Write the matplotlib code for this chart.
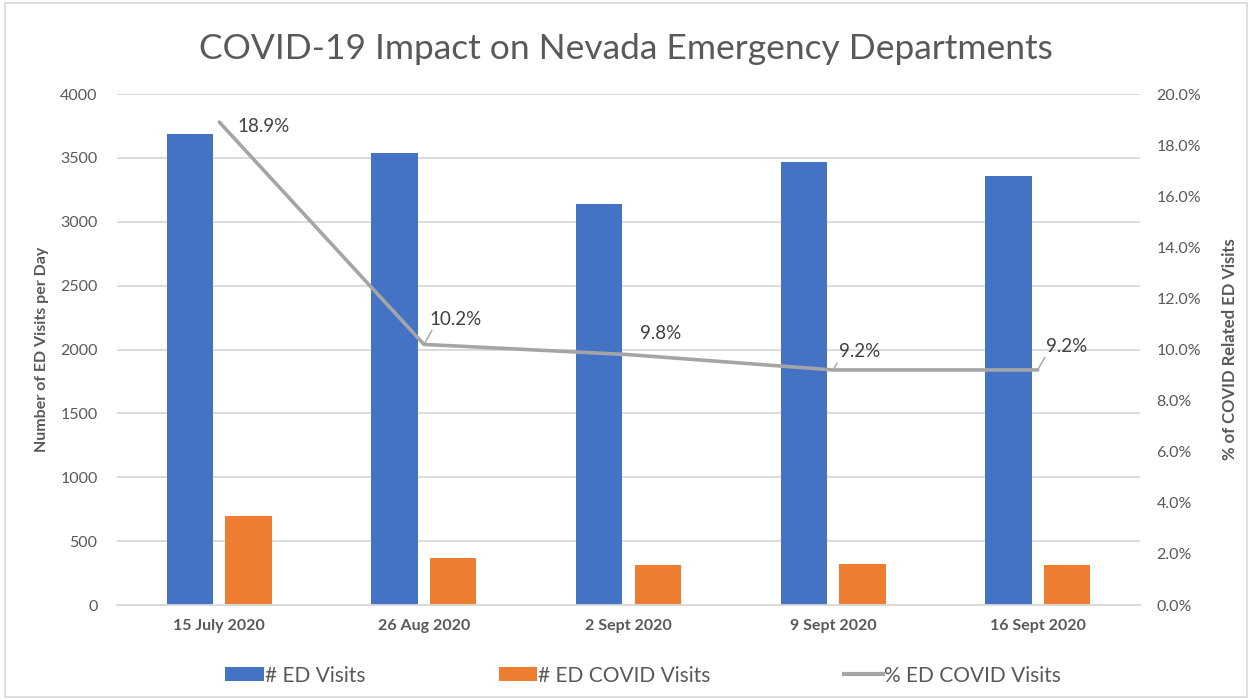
import matplotlib
matplotlib.use("Agg")
import matplotlib.pyplot as plt
import numpy as np
from matplotlib.lines import Line2D
from matplotlib.patches import Patch, Rectangle
from matplotlib.ticker import FuncFormatter, MultipleLocator

dates = ["15 July 2020", "26 Aug 2020", "2 Sept 2020", "9 Sept 2020", "16 Sept 2020"]
ed_visits = [3687, 3540, 3140, 3468, 3360]
covid_visits = [697, 368, 313, 320, 313]
covid_pct = [18.9, 10.2, 9.8, 9.2, 9.2]

BLUE = "#4472c4"
ORANGE = "#ed7d31"
GREY = "#a5a5a5"
TEXT = "#595959"

plt.rcParams["font.family"] = ["Lato", "DejaVu Sans"]

fig = plt.figure(figsize=(12.52, 7.0), dpi=100)
fig.patches.append(Rectangle((0.004, 0.004), 0.992, 0.992, transform=fig.transFigure,
                             fill=False, edgecolor="#d9d9d9", linewidth=1.2))
ax = fig.add_axes([0.0935, 0.1357, 0.817, 0.73])
ax2 = ax.twinx()

x = np.arange(len(dates))
width = 0.227
ax.bar(x - 0.143, ed_visits, width, color=BLUE, zorder=2)
ax.bar(x + 0.143, covid_visits, width, color=ORANGE, zorder=2)
ax.set_xlim(-0.5, len(dates) - 0.5)
ax.set_ylim(0, 4000)
ax.yaxis.set_major_locator(MultipleLocator(500))
ax.grid(axis="y", color="#d9d9d9", linewidth=1.3, zorder=0)
ax.set_axisbelow(True)
ax.set_xticks(x)
ax.set_xticklabels(dates, fontweight="bold", fontsize=11.5, color=TEXT)
ax.tick_params(axis="y", length=0, labelsize=11.5, labelcolor=TEXT, pad=14)
ax.tick_params(axis="x", length=0, pad=10)
ax.set_ylabel("Number of ED Visits per Day", fontweight="bold", fontsize=11.5,
              color=TEXT, labelpad=8)
for side in ["top", "left", "right"]:
    ax.spines[side].set_visible(False)
ax.spines["bottom"].set_color("#d9d9d9")
ax.spines["bottom"].set_linewidth(1.3)

ax2.plot(x, covid_pct, color=GREY, linewidth=2.6, solid_capstyle="round", zorder=3)
ax2.set_ylim(0, 20)
ax2.yaxis.set_major_locator(MultipleLocator(2))
ax2.yaxis.set_major_formatter(FuncFormatter(lambda v, _: f"{v:.1f}%"))
ax2.tick_params(axis="y", length=0, labelsize=11.5, labelcolor=TEXT, pad=12)
ax2.set_ylabel("% of COVID Related ED Visits", fontweight="bold", fontsize=12,
              color=TEXT, labelpad=15)
for side in ["top", "left", "right", "bottom"]:
    ax2.spines[side].set_visible(False)

offsets = [(13, -9), (4, 12), (8, 9), (4, 7), (6, 11)]
leaders = [False, True, False, True, True]
for xi, val, off, lead in zip(x, covid_pct, offsets, leaders):
    kw = {}
    if lead:
        kw["arrowprops"] = dict(arrowstyle="-", color=GREY, linewidth=1,
                                shrinkA=0, shrinkB=0, connectionstyle="angle,angleA=0,angleB=60")
    ax2.annotate(f"{val:.1f}%", (xi, val), xytext=off, textcoords="offset points",
                 fontsize=13.5, color="#404040", ha="left", va="bottom", **kw)

fig.text(0.5, 0.93, "COVID-19 Impact on Nevada Emergency Departments",
         ha="center", va="center", fontsize=25.5, color=TEXT)

handles = [
    Patch(facecolor=BLUE, label="# ED Visits"),
    Patch(facecolor=ORANGE, label="# ED COVID Visits"),
    Line2D([0], [0], color=GREY, linewidth=3, label="% ED COVID Visits"),
]
leg = fig.legend(handles=handles, loc="center", bbox_to_anchor=(0.5135, 0.035), ncol=3,
                 frameon=False, fontsize=15, columnspacing=6.4, handlelength=1.85,
                 handleheight=0.65, handletextpad=0.05)
for t in leg.get_texts():
    t.set_color(TEXT)

fig.savefig("out.png", dpi=100, facecolor="white")
